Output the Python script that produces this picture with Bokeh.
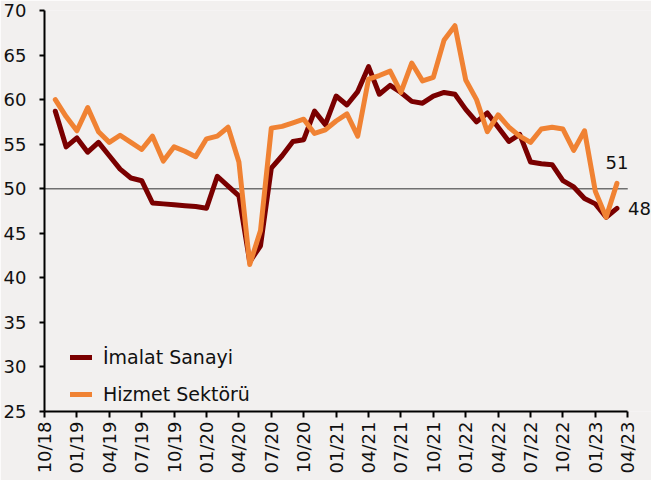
import math
from bokeh.plotting import figure
from bokeh.models import Range1d, FixedTicker, Legend, LegendItem, ColumnDataSource
from bokeh.core.properties import value
from bokeh.embed import file_html
from bokeh.resources import INLINE

# ---- data (monthly, 11/2018 .. 03/2023) ----
month_index = list(range(1, 54))
imalat = [58.7, 54.7, 55.7, 54.1, 55.2, 53.7, 52.2, 51.2, 50.9, 48.4,
          48.3, 48.2, 48.1, 48.0, 47.8, 51.4, 50.3, 49.2, 41.8, 43.6,
          52.3, 53.7, 55.3, 55.5, 58.7, 57.2, 60.4, 59.4, 60.9, 63.7,
          60.6, 61.6, 60.8, 59.8, 59.6, 60.4, 60.8, 60.6, 58.9, 57.5,
          58.5, 56.9, 55.3, 56.1, 53.0, 52.8, 52.7, 50.9, 50.2, 48.9,
          48.3, 46.8, 47.8]
hizmet = [60.0, 58.1, 56.5, 59.1, 56.4, 55.2, 56.0, 55.2, 54.4, 55.9,
          53.1, 54.7, 54.2, 53.6, 55.6, 55.9, 56.9, 53.0, 41.5, 45.3,
          56.8, 57.0, 57.4, 57.8, 56.2, 56.6, 57.6, 58.4, 55.9, 62.3,
          62.7, 63.2, 60.8, 64.1, 62.1, 62.5, 66.7, 68.3, 62.2, 60.0,
          56.4, 58.3, 56.9, 55.9, 55.2, 56.7, 56.9, 56.7, 54.3, 56.5,
          49.7, 46.8, 50.6]
tick_pos = list(range(0, 55, 3))
tick_labels = ["10/18", "01/19", "04/19", "07/19", "10/19", "01/20", "04/20",
               "07/20", "10/20", "01/21", "04/21", "07/21", "10/21", "01/22",
               "04/22", "07/22", "10/22", "01/23", "04/23"]
y_ticks = [25, 30, 35, 40, 45, 50, 55, 60, 65, 70]
ref_level = 50

BG = "#F2F0EF"
C_IMALAT = "#7A0000"
C_HIZMET = "#F08233"
FONT = "DejaVu Sans"
FS = "18px"

p = figure(width=651, height=480, output_backend="svg", toolbar_location=None,
           x_range=Range1d(tick_pos[0], tick_pos[-1] + 2.2),
           y_range=Range1d(y_ticks[0], y_ticks[-1]),
           min_border_left=44, min_border_right=0, min_border_top=10,
           min_border_bottom=69, background_fill_color=BG,
           border_fill_color=BG, outline_line_color=None)
p.xgrid.visible = False
p.ygrid.visible = False

# reference line at 50
p.line(x=[tick_pos[0], tick_pos[-1]], y=[ref_level, ref_level],
       line_color="#707070", line_width=1.5)

r1 = p.line(x=month_index, y=imalat, line_color=C_IMALAT, line_width=5,
            line_join="round", line_cap="round")
r2 = p.line(x=month_index, y=hizmet, line_color=C_HIZMET, line_width=5,
            line_join="round", line_cap="round")

# end labels
end_h = ColumnDataSource(dict(x=[month_index[-1]], y=[hizmet[-1]],
                              t=[str(round(hizmet[-1]))]))
end_i = ColumnDataSource(dict(x=[month_index[-1]], y=[imalat[-1]],
                              t=[str(round(imalat[-1]))]))
p.text(x="x", y="y", text="t", source=end_h, text_align="center",
       text_baseline="middle", y_offset=-21, text_font=value(FONT),
       text_font_size=FS, text_color="#111111")
p.text(x="x", y="y", text="t", source=end_i, text_align="left",
       text_baseline="middle", x_offset=11, text_font=value(FONT),
       text_font_size=FS, text_color="#111111")

# axes
xa = p.xaxis[0]
xa.ticker = FixedTicker(ticks=tick_pos)
xa.major_label_overrides = {t: l for t, l in zip(tick_pos, tick_labels)}
xa.bounds = (tick_pos[0], tick_pos[-1])
xa.major_label_orientation = math.pi / 2
xa.major_tick_out = 6
xa.major_tick_in = 0
xa.minor_tick_out = 0
xa.minor_tick_in = 0
xa.major_label_standoff = 4
ya = p.yaxis[0]
ya.ticker = FixedTicker(ticks=y_ticks)
ya.major_tick_out = 5
ya.major_tick_in = 0
ya.minor_tick_out = 0
ya.minor_tick_in = 0
ya.major_label_standoff = 13
for ax in (xa, ya):
    ax.axis_line_color = "black"
    ax.axis_line_width = 2
    ax.major_tick_line_color = "black"
    ax.major_tick_line_width = 2
    ax.major_label_text_font = FONT
    ax.major_label_text_font_size = FS
    ax.major_label_text_color = "#111111"

legend = Legend(items=[LegendItem(label="İmalat Sanayi", renderers=[r1]),
                       LegendItem(label="Hizmet Sektörü", renderers=[r2])],
                location=(26, 6), orientation="vertical",
                background_fill_alpha=0, border_line_alpha=0,
                padding=0, margin=0, spacing=15, glyph_width=22,
                glyph_height=20, label_height=20, label_standoff=11,
                label_text_font=FONT, label_text_font_size="19px",
                label_text_color="#111111")
p.add_layout(legend)

open("out.html", "w").write(file_html(p, INLINE))
